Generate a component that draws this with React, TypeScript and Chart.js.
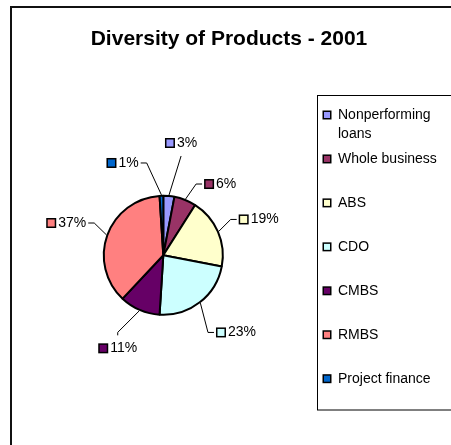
import React, { useEffect, useRef } from "react";
import { Chart, registerables } from "chart.js";

Chart.register(...registerables);

const TITLE = "Diversity of Products - 2001";
const categories = [
  "Nonperforming loans",
  "Whole business",
  "ABS",
  "CDO",
  "CMBS",
  "RMBS",
  "Project finance",
];
const shares = [3, 6, 19, 23, 11, 37, 1];
const percentLabels = ["3%", "6%", "19%", "23%", "11%", "37%", "1%"];
const sliceColors = ["#9999FF", "#993366", "#FFFFCC", "#CCFFFF", "#660066", "#FF8080", "#0066CC"];

const FONT = '"Liberation Sans", Arial, sans-serif';

// label placement: angle offset (deg) from slice middle, distance from centre (px)
const labelAngleOffset = [3.6, 17, 2.8, -5.5, 2.7, -1.4, -22];
const labelDistance = [113.7, 91.2, 101.9, 106, 103.6, 102.3, 100.9];

function wrap(ctx: CanvasRenderingContext2D, text: string, maxW: number): string[] {
  const words = text.split(" ");
  const lines: string[] = [];
  let cur = "";
  for (const w of words) {
    const t = cur ? cur + " " + w : w;
    if (ctx.measureText(t).width > maxW && cur) {
      lines.push(cur);
      cur = w;
    } else cur = t;
  }
  if (cur) lines.push(cur);
  return lines;
}

const decorPlugin = {
  id: "decor",
  beforeDraw(chart: any) {
    const ctx = chart.ctx as CanvasRenderingContext2D;
    ctx.save();
    ctx.fillStyle = "#fff";
    ctx.fillRect(0, 0, chart.width, chart.height);
    ctx.strokeStyle = "#111";
    ctx.lineWidth = 2;
    ctx.strokeRect(11, 7, chart.width + 20, chart.height + 20);
    ctx.fillStyle = "#000";
    ctx.font = `bold 21px ${FONT}`;
    ctx.textAlign = "center";
    ctx.textBaseline = "alphabetic";
    ctx.fillText(TITLE, 229, 45);
    ctx.restore();
  },
  afterDraw(chart: any) {
    const ctx = chart.ctx as CanvasRenderingContext2D;
    ctx.save();
    // legend box
    ctx.strokeStyle = "#000";
    ctx.lineWidth = 1;
    ctx.strokeRect(317.5, 95.5, 200, 314.5);
    ctx.font = `14px ${FONT}`;
    ctx.textAlign = "left";
    ctx.textBaseline = "middle";
    const labels: string[] = chart.data.labels;
    const colors: string[] = chart.data.datasets[0].backgroundColor;
    labels.forEach((lab, i) => {
      const y = 115 + 43.95 * i;
      ctx.fillStyle = "#000";
      ctx.fillRect(322.5, y - 4.5, 9, 9);
      ctx.fillStyle = colors[i];
      ctx.fillRect(324, y - 3, 6, 6);
      ctx.fillStyle = "#000";
      const lines = wrap(ctx, lab, 108);
      lines.forEach((ln, k) => ctx.fillText(ln, 338, y + k * 19.5));
    });

    // pie data labels with leader lines
    const meta = chart.getDatasetMeta(0);
    meta.data.forEach((arc: any, i: number) => {
      const { x, y, startAngle, endAngle, outerRadius } = arc.getProps(
        ["x", "y", "startAngle", "endAngle", "outerRadius"],
        true
      );
      const mid = (startAngle + endAngle) / 2;
      const la = mid + (labelAngleOffset[i] * Math.PI) / 180;
      const d = labelDistance[i];
      const cx = x + Math.cos(la) * d;
      const cy = y + Math.sin(la) * d;
      const txt = percentLabels[i];
      const tw = ctx.measureText(txt).width;
      const gw = 10 + 2 + tw;
      const left = cx - gw / 2;
      const right = cx + gw / 2;
      const top = cy - 8;
      const bottom = cy + 8;
      ctx.fillStyle = "#000";
      ctx.fillRect(left, cy - 5, 10, 10);
      ctx.fillStyle = colors[i];
      ctx.fillRect(left + 1.5, cy - 3.5, 7, 7);
      ctx.fillStyle = "#000";
      ctx.fillText(txt, left + 12, cy);
      const ax = x + Math.cos(mid) * (outerRadius + 1);
      const ay = y + Math.sin(mid) * (outerRadius + 1);
      const vx = cx - ax;
      const vy = cy - ay;
      let ex: number, ey: number, bx: number, by: number;
      if (Math.abs(vy) > 1.5 * Math.abs(vx)) {
        ex = cx;
        if (vy < 0) {
          ey = bottom + 5;
          by = ey;
        } else {
          ey = top - 5;
          by = ey - 3;
        }
        bx = ex;
      } else {
        ey = cy;
        by = cy;
        if (vx > 0) {
          ex = left - 2;
          bx = ex - 6;
        } else {
          ex = right + 2;
          bx = ex + 6;
        }
      }
      ctx.strokeStyle = "#000";
      ctx.lineWidth = 1;
      ctx.beginPath();
      ctx.moveTo(ax, ay);
      ctx.lineTo(bx, by);
      ctx.lineTo(ex, ey);
      ctx.stroke();
    });
    ctx.restore();
  },
};

export default function App() {
  const ref = useRef<HTMLCanvasElement | null>(null);
  useEffect(() => {
    if (!ref.current) return;
    const chart = new Chart(ref.current, {
      type: "pie",
      data: {
        labels: categories,
        datasets: [
          {
            data: shares,
            backgroundColor: sliceColors,
            borderColor: "#000",
            borderWidth: 2,
            radius: 59.5,
          } as any,
        ],
      },
      options: {
        responsive: false,
        animation: false,
        events: [],
        layout: { padding: { left: 93.3, right: 217.7, top: 185.3, bottom: 119.7 } },
        plugins: {
          legend: { display: false },
          title: { display: false },
          tooltip: { enabled: false },
        },
      },
      plugins: [decorPlugin],
    });
    return () => chart.destroy();
  }, []);
  return (
    <canvas
      ref={ref}
      width={451}
      height={445}
      style={{ position: "fixed", left: 0, top: 0, width: 451, height: 445 }}
    />
  );
}
